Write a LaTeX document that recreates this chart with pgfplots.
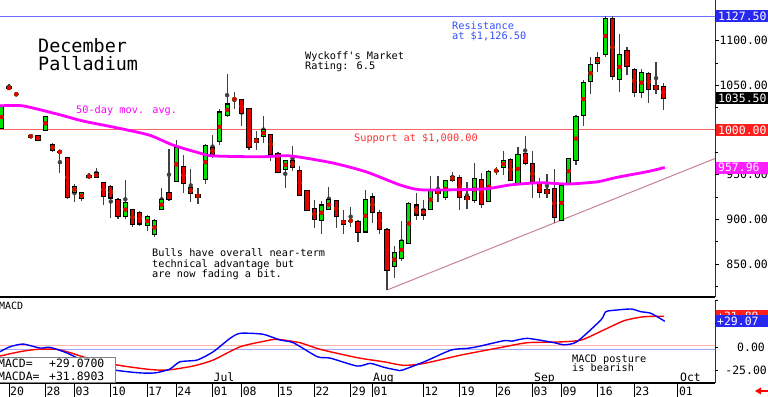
\documentclass[border=0pt]{standalone}
\usepackage{fontspec}
\usepackage{pgfplots}
\usepackage{pgfplotstable}
\pgfplotsset{compat=1.18}
\newfontfamily\mono{DejaVu Sans Mono}
\newcommand\fa{\mono\fontsize{10.3}{10}\selectfont}
\newcommand\fb{\mono\fontsize{11.5}{12}\selectfont}
\newcommand\ft{\mono\fontsize{18.5}{20}\selectfont}
\definecolor{cgreen}{RGB}{0,225,0}
\definecolor{cred}{RGB}{230,0,0}
\definecolor{resblue}{RGB}{110,110,255}
\definecolor{restext}{RGB}{50,80,255}
\definecolor{supred}{RGB}{255,100,100}
\definecolor{suptext}{RGB}{255,50,50}
\definecolor{trend}{RGB}{200,130,150}
\definecolor{mag}{RGB}{255,0,255}
\definecolor{boxblue}{RGB}{40,40,240}
\definecolor{boxred}{RGB}{255,30,30}
\definecolor{boxmag}{RGB}{255,30,255}

\pgfplotstableread{
i o h l c
-1 1002 1028 1001 1027
0 1046 1051 1046 1048
1 1040 1040 1040 1040
3 994 994 992 992
4 994 994 988 988
5 1000 1016 1000 1015
6 984 985 975 977
7 976 976 952 975
8 969 970 923 925
9 930 940 919 937
10 923 931 921 930
11 949 952 945 947
12 952 958 946 947
13 941 942 916 926
14 937 938 902 924
15 922 924 900 903
16 903 944 901 919
17 911 912 892 894
18 908 909 893 895
19 893 905 887 903
20 883 900 880 899
21 911 935 910 922
22 930 979 921 922
23 943 989 942 980
24 959 972 930 940
25 936 956 920 929
26 925 935 917 928
27 945 984 940 983
28 980 994 969 973
29 987 1024 983 1020
30 1016 1063 1015 1029
31 1035 1043 1024 1034
32 1034 1035 1004 1019
33 1024 1025 978 981
34 986 999 978 990
35 993 1016 985 1000
36 995 996 965 973
37 974 975 952 953
38 956 967 935 966
39 966 982 954 958
40 955 960 926 927
41 932 933 909 910
42 912 922 890 900
43 899 921 884 916
44 911 936 910 922
45 921 922 890 903
46 899 910 884 895
47 898 914 892 899
48 898 899 875 885
49 886 933 885 922
50 925 930 896 908
51 908 911 884 889
52 889 890 821 843
53 847 870 834 863
54 856 898 853 876
55 873 919 873 918
56 916 930 899 905
57 905 922 899 911
58 911 948 910 933
59 932 948 920 929
60 925 944 922 943
61 944 953 942 948
62 947 950 910 925
63 925 942 912 922
64 921 963 918 946
65 945 952 913 917
66 920 955 919 953
67 954 959 950 955
68 958 976 950 966
69 967 969 943 944
70 940 981 939 973
71 974 993 961 963
72 962 976 924 940
73 941 946 924 930
74 929 951 924 933
75 934 956 896 902
76 899 940 899 938
77 940 969 939 968
78 966 1017 961 1015
79 1016 1056 1004 1053
80 1054 1082 1040 1073
81 1075 1087 1065 1081
82 1085 1127 1082 1125
83 1125 1127.5 1056 1060
84 1057 1107 1042 1084
85 1089 1093 1061 1071
86 1068 1069 1037 1042
87 1042 1068 1036 1064
88 1063 1065 1030 1045
89 1045 1076 1040 1050
90 1049 1053 1022 1035.5
}\candles

\pgfplotstableread{
i v
-1.24 1027
1.9 1027
7.0 1017
10.2 1010
15.7 1001
19.4 994
22.6 983
26.3 974
28.1 971
34.5 970
38.7 971
44.6 963
49.2 953
53.8 938.5
56.9 933
65.2 934
68.9 938.5
73 941
76.8 939.6
80.9 942
83.6 947
87.8 953.4
90.2 958
}\matab

\pgfplotstableread{
i v
-1.24 -4
0.14 1.4
1.93 4.3
4.26 0
5.64 0.7
7.98 -5.4
11.1 -17
14.6 -24
18.0 -27
20.1 -27
22.1 -23
23.5 -15
25.9 -13
28.1 -4
30.4 10.5
31.8 16
34.9 15
37.3 8.7
39.1 5.8
42.4 -9.4
44.2 -11
47.9 -19.6
49.7 -16.7
51.6 -21
53.4 -24
54.1 -24
57.1 -15
60.8 -2.2
63.0 -0.4
64.4 1.4
68.1 8
69.2 7.5
71.3 10.5
75.0 5.8
76.3 3.5
78.1 6.8
81.4 30.4
82.1 39.5
83.6 41.3
85.6 42.4
86.9 39.5
88.3 37.7
90.2 29.1
}\macdtab

\pgfplotstableread{
i v
-1.24 -8.7
1.5 -4
3.9 -1.4
6.6 -1.4
8.4 -5
11.6 -13
14.9 -18.5
19.0 -23
21.7 -24
25.3 -19.6
28.1 -13
31.8 1.4
35.5 8
36.9 9.5
40.0 5.8
42.8 -1.4
47.9 -10.5
51.6 -15
54.3 -18.8
57.1 -16.7
62.2 -7.6
67.7 0.7
71.3 5.8
75.4 6.5
78.7 8.7
81.8 19.6
84.6 29.7
87.3 34
90.1 34.5
}\sigtab

\begin{document}
\begin{tikzpicture}
\path[use as bounding box] (0,0) rectangle (768bp,397bp);
\fill[white] (0,0) rectangle (768bp,397bp);

% ---------- price panel ----------
\begin{axis}[
  at={(0,100bp)}, anchor=south west, scale only axis,
  width=715bp, height=297bp,
  xmin=-1.238, xmax=97.11, ymin=813.2, ymax=1145.4,
  axis x line*=bottom, axis y line*=right,
  x axis line style={line width=2bp, black},
  y axis line style={line width=1bp, black!80},
  xtick=\empty, ytick=\empty,
  clip mode=individual,
]
\addplot[resblue, line width=1bp] coordinates {(-2,1127.5) (98,1127.5)};
\addplot[supred, line width=1bp] coordinates {(-2,1000) (98,1000)};
\addplot[trend, line width=1bp] coordinates {(52,821) (97.11,968.1)};
% wicks
\addplot[black!75, only marks, mark=none,
  error bars/.cd, y dir=both, y explicit, error mark=none,
  error bar style={line width=1.2bp, black!75}]
  table[x=i, y expr={(\thisrow{h}+\thisrow{l})/2},
        y error expr={(\thisrow{h}-\thisrow{l})/2}] {\candles};
% body outline
\addplot[black, only marks, mark=none,
  error bars/.cd, y dir=both, y explicit, error mark=none,
  error bar style={line width=5.2bp, black}]
  table[x=i, y expr={(\thisrow{o}+\thisrow{c})/2},
        y error expr={abs(\thisrow{c}-\thisrow{o})/2+0.7}] {\candles};
% green bodies
\addplot[cgreen, only marks, mark=none,
  error bars/.cd, y dir=both, y explicit, error mark=none,
  error bar style={line width=3.2bp, cgreen}]
  table[x=i, y expr={(\thisrow{o}+\thisrow{c})/2},
        y error expr={(\thisrow{c}>\thisrow{o}) ? max(abs(\thisrow{c}-\thisrow{o})/2-0.5,0) : 0}] {\candles};
% red bodies
\addplot[cred, only marks, mark=none,
  error bars/.cd, y dir=both, y explicit, error mark=none,
  error bar style={line width=3.2bp, cred}]
  table[x=i, y expr={(\thisrow{o}+\thisrow{c})/2},
        y error expr={(\thisrow{c}<\thisrow{o}) ? max(abs(\thisrow{c}-\thisrow{o})/2-0.5,0) : 0}] {\candles};
% 50-day MA
\addplot[mag, line width=2.8bp, smooth, tension=0.4] table[x=i, y=v] {\matab};
\end{axis}

% ---------- MACD panel ----------
\begin{axis}[
  at={(0,14bp)}, anchor=south west, scale only axis,
  width=715bp, height=83bp,
  xmin=-1.238, xmax=97.11, ymin=-38, ymax=52.2,
  axis x line*=bottom, axis y line*=right,
  x axis line style={line width=1.5bp, black},
  y axis line style={line width=1bp, black!80},
  xtick=\empty, ytick=\empty,
  clip mode=individual,
]
\addplot[blue!35, line width=0.8bp] coordinates {(-2,-1.2) (98,-1.2)};
\addplot[red!30, line width=0.8bp] coordinates {(-2,3.2) (98,3.2)};
\addplot[red, line width=1.4bp, smooth, tension=0.4] table[x=i, y=v] {\sigtab};
\addplot[blue, line width=1.4bp, smooth, tension=0.4] table[x=i, y=v] {\macdtab};
\end{axis}

% ---------- annotations (image coordinates) ----------
\begin{scope}[x=1bp, y=-1bp, shift={(0,397bp)}]
\tikzset{every node/.style={inner sep=0pt, anchor=base west}}
\node[font=\ft] at (38,52.3) {December};
\node[font=\ft] at (38,71) {Palladium};
\node[font=\fa] at (305,59.5) {Wyckoff's Market};
\node[font=\fa] at (305,70) {Rating: 6.5};
\node[font=\fa, text=restext] at (452,30) {Resistance};
\node[font=\fa, text=restext] at (452,39.5) {at \$1,126.50};
\node[font=\fa, text=mag] at (76,114) {50-day mov. avg.};
\node[font=\fa, text=suptext] at (354,142) {Support at \$1,000.00};
\node[font=\fa] at (152,257) {Bulls have overall near-term};
\node[font=\fa] at (152,267.5) {technical advantage but};
\node[font=\fa] at (152,277.5) {are now fading a bit.};
\node[font=\fa] at (572,362.7) {MACD posture};
\node[font=\fa] at (572,371.7) {is bearish};
\node[font=\mono\fontsize{10}{10}\selectfont] at (-1,309.3) {MACD};

% price axis ticks
\foreach \y in {40.6,85.3,130,174.7,219.4,264.1}
  \draw[black, line width=0.8bp] (715,\y) -- (719,\y);
\foreach \y in {18.3,63,107.7,152.4,197.1,241.8,286.5}
  \draw[black, line width=0.8bp] (715,\y) -- (717.5,\y);
% MACD right ticks
\foreach \y in {300,323,347,370}
  \draw[black, line width=0.8bp] (715,\y) -- (718,\y);
% bottom date separators
\foreach \i in {0,5,9,14,19,23,28,32,37,42,47,50,57,62,67,72,76,81,86,92}
  \draw[black, line width=0.9bp] ({9+7.27*\i},383) -- ({9+7.27*\i},397);

% price axis labels
\foreach \v/\y in {1100.00/40.6, 1050.00/85.3, 950.00/174.7, 900.00/219.4, 850.00/264.1}
  \node[font=\fb, anchor=east] at (768,\y) {\v};
% value boxes
\fill[boxblue] (716,10) rectangle (770,22);
\node[font=\fb, text=white, anchor=west] at (718,16) {1127.50};
\fill[black] (716,92.3) rectangle (770,104.3);
\node[font=\fb, text=white, anchor=west] at (718,98.3) {1035.50};
\fill[boxred] (716,124) rectangle (770,136);
\node[font=\fb, text=white, anchor=west] at (718,130) {1000.00};
\fill[boxmag] (716,161.6) rectangle (770,173.6);
\node[font=\fb, text=white, anchor=west] at (718,167.6) {957.96};

% MACD axis labels and boxes
\node[font=\fb, anchor=east] at (765,347) {0.00};
\node[font=\fb, anchor=east] at (767,370) {-25.00};
\fill[boxred] (716,310.5) rectangle (770,322.5);
\node[font=\fb, text=white, anchor=west] at (717,316.5) {+31.89};
\fill[boxblue] (716,315) rectangle (770,327);
\node[font=\fb, text=white, anchor=west] at (717,321) {+29.07};

% MACD legend box
\draw[gray, fill=white, line width=0.8bp] (-1,357.5) rectangle (115.5,382.5);
\node[font=\fb] at (-2,367.7) {MACD=};
\node[font=\fb] at (49,367.7) {+29.0700};
\node[font=\fb] at (-2,380.7) {MACDA=};
\node[font=\fb] at (49,380.7) {+31.8903};

% date labels
\foreach \i/\l in {0/20,5/28,9/03,14/10,19/17,23/24,28/01,32/08,37/15,42/22,47/29,50/01,57/12,62/19,67/26,72/03,76/09,81/16,86/23,92/01}
  \node[font=\fb] at ({10+7.27*\i},395.3) {\l};
\node[font=\fb] at (213.5,381.5) {Jul};
\node[font=\fb] at (373,381.5) {Aug};
\node[font=\fb] at (534,381.5) {Sep};
\node[font=\fb] at (680,381.5) {Oct};

% small red arrow
\fill[red] (755,391) -- (761,387.5) -- (761,394.5) -- cycle;
\fill[red] (760,390) rectangle (770,392);
\end{scope}
\end{tikzpicture}
\end{document}
